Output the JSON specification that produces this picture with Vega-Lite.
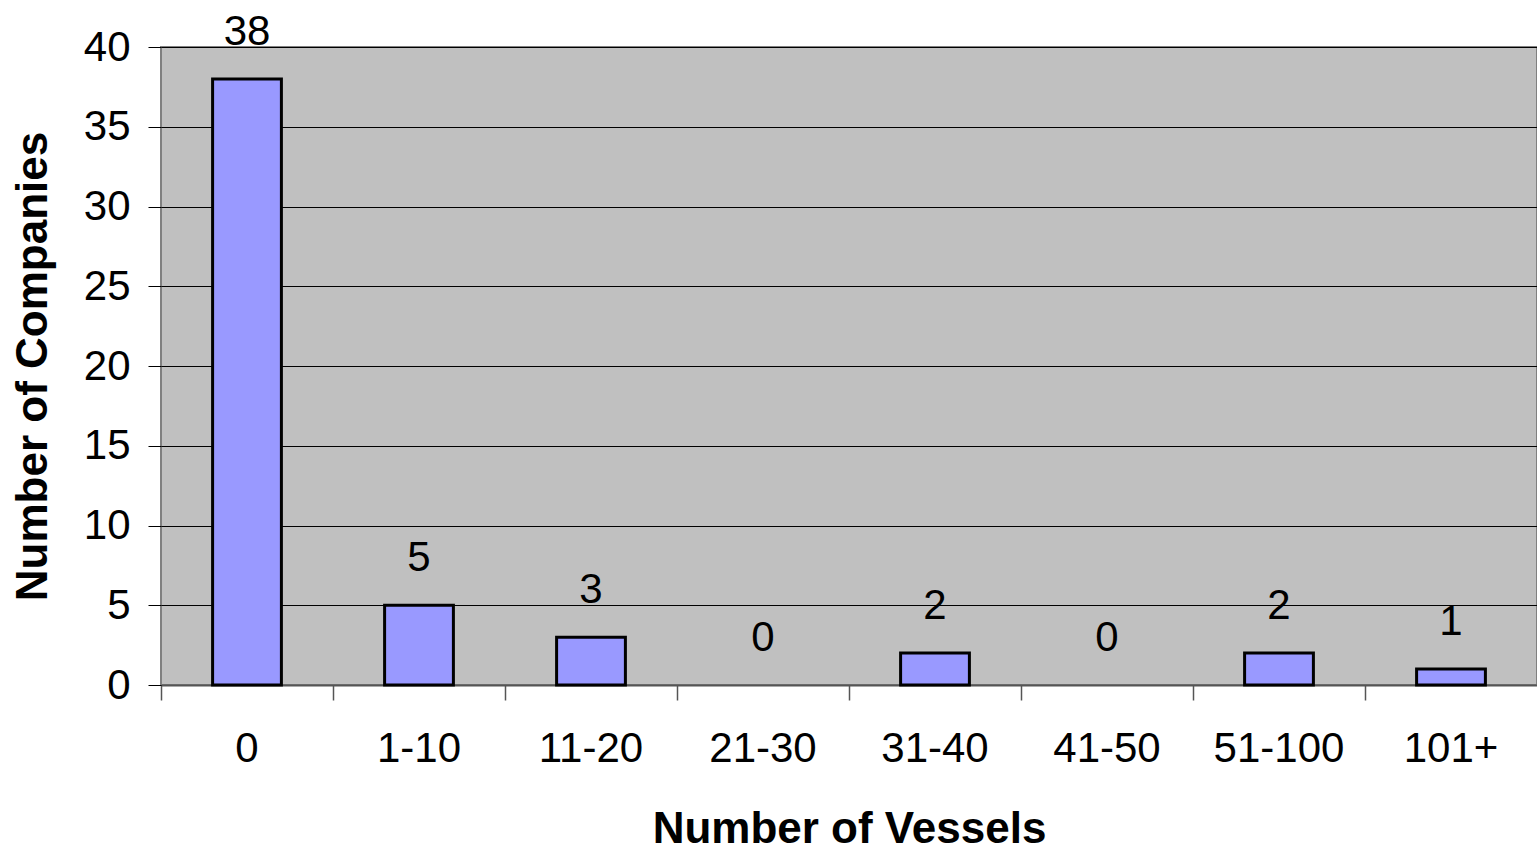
{
  "$schema": "https://vega.github.io/schema/vega-lite/v6.json",
  "autosize": {"type": "none"},
  "padding": {"left": 161, "top": 47, "right": 0, "bottom": 165},
  "width": 1376,
  "height": 638,
  "background": "white",
  "config": {
    "font": "Liberation Sans",
    "view": {"fill": "#C0C0C0", "stroke": "#808080", "strokeWidth": 2}
  },
  "data": {
    "values": [
      {"vessels": "0", "companies": 38},
      {"vessels": "1-10", "companies": 5},
      {"vessels": "11-20", "companies": 3},
      {"vessels": "21-30", "companies": 0},
      {"vessels": "31-40", "companies": 2},
      {"vessels": "41-50", "companies": 0},
      {"vessels": "51-100", "companies": 2},
      {"vessels": "101+", "companies": 1}
    ]
  },
  "encoding": {
    "x": {
      "field": "vessels",
      "type": "nominal",
      "sort": null,
      "scale": {"domain": ["0", "1-10", "11-20", "21-30", "31-40", "41-50", "51-100", "101+"], "paddingInner": 0, "paddingOuter": 0},
      "axis": {
        "title": "Number of Vessels",
        "titleFont": "Liberation Sans",
        "titleFontSize": 44,
        "titleFontWeight": "bold",
        "titleColor": "black",
        "titlePadding": 38,
        "labelFont": "Liberation Sans",
        "labelFontSize": 42,
        "labelColor": "black",
        "labelAngle": 0,
        "labelPadding": 28,
        "bandPosition": 0,
        "tickSize": 15,
        "tickColor": "#555",
        "tickWidth": 1.5,
        "domainColor": "#555",
        "domainWidth": 2,
        "grid": false
      }
    },
    "y": {
      "field": "companies",
      "type": "quantitative",
      "scale": {"domain": [0, 40], "nice": false},
      "axis": {
        "title": "Number of Companies",
        "titleFont": "Liberation Sans",
        "titleFontSize": 44,
        "titleFontWeight": "bold",
        "titleColor": "black",
        "titlePadding": 28,
        "labelFont": "Liberation Sans",
        "labelFontSize": 42,
        "labelColor": "black",
        "labelPadding": 18,
        "values": [0, 5, 10, 15, 20, 25, 30, 35, 40],
        "tickSize": 13,
        "tickColor": "black",
        "domain": false,
        "grid": true,
        "gridColor": "black",
        "gridOpacity": 1,
        "gridWidth": 1
      }
    }
  },
  "layer": [
    {
      "transform": [{"filter": "datum.companies > 0"}],
      "mark": {"type": "bar", "fill": "#9999FF", "stroke": "black", "strokeWidth": 3, "width": {"band": 0.4}}
    },
    {
      "mark": {"type": "text", "font": "Liberation Sans", "fontSize": 42, "color": "black", "baseline": "alphabetic", "dy": -34},
      "encoding": {"text": {"field": "companies", "type": "quantitative"}}
    }
  ]
}
